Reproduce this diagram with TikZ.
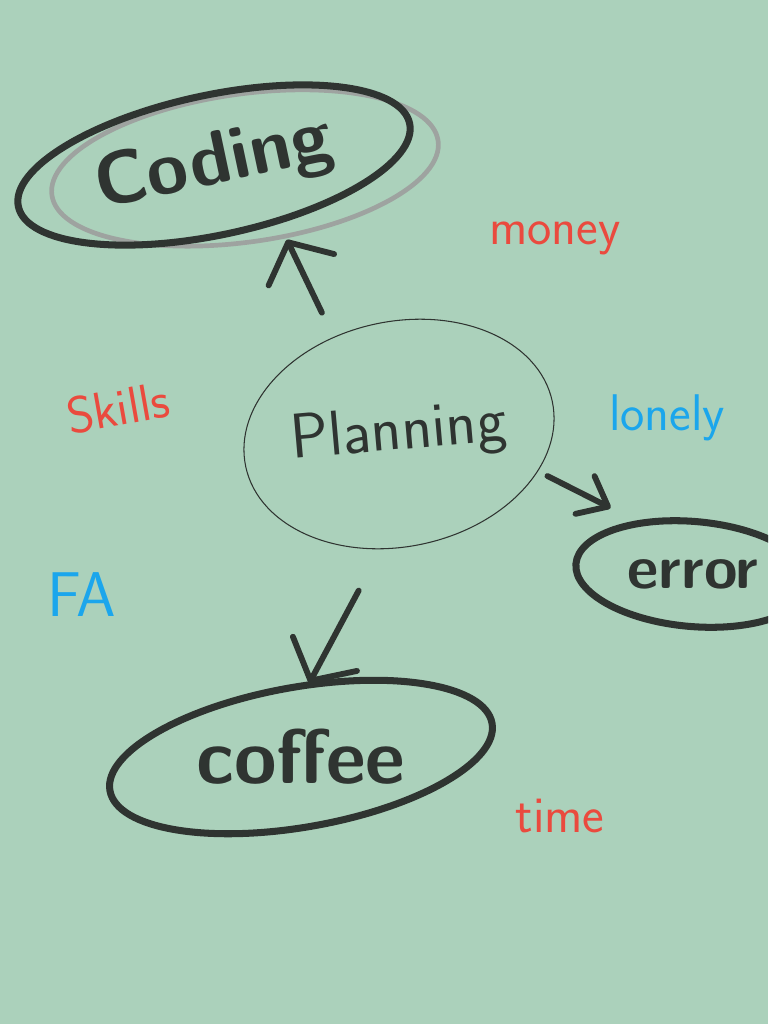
\documentclass[tikz,border=0pt]{standalone}
\usetikzlibrary{shapes.geometric,arrows.meta}
\definecolor{bg}{HTML}{ABD1BB}
\definecolor{ink}{HTML}{2F3431}
\definecolor{redink}{HTML}{EA4A3E}
\definecolor{blueink}{HTML}{1BA6EC}
\definecolor{haloink}{HTML}{9EA3A0}
\newcommand\fcod{\fontsize{64}{64}\selectfont\sffamily\bfseries}
\newcommand\fplan{\fontsize{54}{54}\selectfont\sffamily}
\newcommand\fbub{\fontsize{66}{66}\selectfont\sffamily\bfseries}
\newcommand\ferr{\fontsize{52}{52}\selectfont\sffamily\bfseries}
\newcommand\flab{\fontsize{44}{44}\selectfont\sffamily}
\newcommand\fbiglab{\fontsize{54}{54}\selectfont\sffamily}
\tikzset{
  bubble/.style={ellipse, draw=ink, line width=6pt, inner sep=0pt, text=ink},
  thinbubble/.style={ellipse, draw=ink, line width=0.9pt, inner sep=0pt, text=ink},
  halo/.style={draw=haloink, line width=4pt},
  conn/.style={draw=ink, line width=5pt, line cap=round,
    -{Straight Barb[length=26pt,width=62pt,round]}},
  smallconn/.style={draw=ink, line width=5pt, line cap=round,
    -{Straight Barb[length=22pt,width=36pt,round]}},
  redlab/.style={text=redink, font=\flab},
  bluelab/.style={text=blueink, font=\flab}
}
\begin{document}
\begin{tikzpicture}[x=0.3mm,y=-0.3mm]
\fill[bg] (0,0) rectangle (768,1024);
\useasboundingbox (0,0) rectangle (768,1024);
\clip (0,0) rectangle (768,1024);
% gray halo behind Coding
\draw[halo, rotate around={8:(245,168)}] (245,168) ellipse [x radius=195, y radius=74];
% nodes
\node[bubble, rotate=12, minimum width=400*0.3mm, minimum height=140*0.3mm] (cod) at (214,165)
  {\fcod Coding\hspace{34pt}};
\node[thinbubble, rotate=12, minimum width=304*0.3mm, minimum height=225*0.3mm] (plan) at (399,434)
  {\rotatebox{-7}{\fplan Planning}\hspace{16pt}};
\node[bubble, rotate=-5, minimum width=235*0.3mm, minimum height=105*0.3mm] (err) at (693,574)
  {\rotatebox{5}{\ferr error}};
\node[bubble, rotate=10, minimum width=388*0.3mm, minimum height=140*0.3mm] (cof) at (301,757)
  {\rotatebox{-10}{\fbub coffee}\hspace{8pt}};
% labels
\node[redlab] (money) at (555,238) {money};
\node[redlab, rotate=10] (skills) at (118,408) {Skills};
\node[bluelab] (lonely) at (667,418) {lonely};
\node[bluelab, font=\fbiglab] (fa) at (82,595) {FA};
\node[redlab] (time) at (560,816) {time};
% connectors
\draw[conn, shorten <=23pt, shorten >=15pt] (plan.112) -- (cod.-54);
\draw[smallconn, shorten <=9pt, shorten >=24pt] (plan.-27) -- (err.142);
\draw[conn, shorten <=40pt, shorten >=-2pt] (plan.-111) -- (cof.73);
\end{tikzpicture}
\end{document}
